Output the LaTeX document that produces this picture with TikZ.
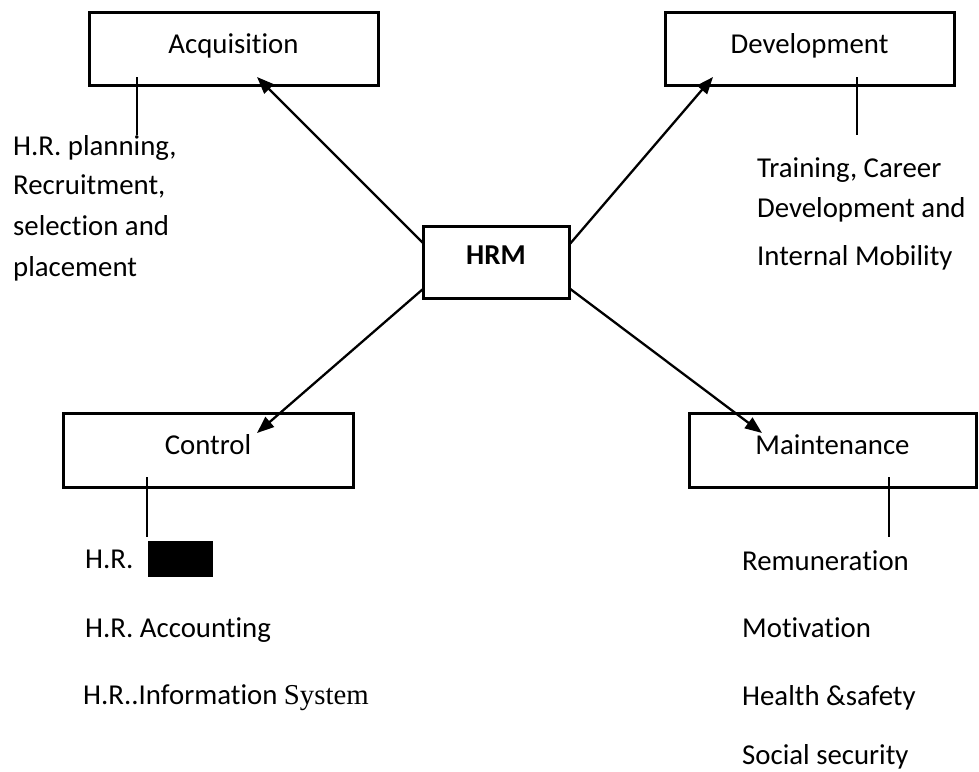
\documentclass[tikz,border=0pt]{standalone}
\usepackage{fontspec}
\setmainfont{Carlito}[Ligatures={NoCommon}]
\newfontfamily\tnr{Liberation Serif}
\usetikzlibrary{arrows.meta}
\begin{document}
\begin{tikzpicture}[x=1pt,y=-1pt,
  box/.style={draw,line width=3pt,minimum width=289pt,minimum height=73pt,inner sep=0pt,
    text height=18pt,text depth=9pt,font=\fontsize{28.8}{34}\selectfont},
  txt/.style={anchor=base west,inner sep=0pt,font=\fontsize{28.8}{34}\selectfont},
  arr/.style={line width=2.3pt,-{Triangle[length=17pt,width=13pt]}},
  tick/.style={line width=2.3pt}]
\useasboundingbox (0,0) rectangle (979,771);

% boxes
\node[box] (acq) at (233.5,48.5) {Acquisition};
\node[box] (dev) at (809.5,48.5) {Development};
\node[box,minimum width=290pt,minimum height=74pt] (ctl) at (208,450) {Control};
\node[box,minimum width=287pt,minimum height=74pt] (mnt) at (832.5,450) {Maintenance};
\node[box,minimum width=146pt,minimum height=72pt,text depth=14pt,
  font=\fontsize{28.8}{34}\selectfont\bfseries] (hrm) at (496,262) {HRM};

% arrow ends
\coordinate (hUL) at (423,243);
\coordinate (hUR) at (569,245);
\coordinate (hLL) at (423,289);
\coordinate (hLR) at (569,288);
\coordinate (tAcq) at (257,77);
\coordinate (tDev) at (713,77);
\coordinate (tCtl) at (257,433);
\coordinate (tMnt) at (762,433);

\draw[arr] (hUL) -- (tAcq);
\draw[arr] (hUR) -- (tDev);
\draw[arr] (hLL) -- (tCtl);
\draw[arr] (hLR) -- (tMnt);

% ticks
\coordinate (aT1) at (137,77);  \coordinate (aT2) at (137,135);
\coordinate (dT1) at (857,77);  \coordinate (dT2) at (857,135);
\coordinate (cT1) at (147,477); \coordinate (cT2) at (147,537);
\coordinate (mT1) at (889,477); \coordinate (mT2) at (889,537);
\draw[tick] (aT1) -- (aT2);
\draw[tick] (dT1) -- (dT2);
\draw[tick] (cT1) -- (cT2);
\draw[tick] (mT1) -- (mT2);

% acquisition texts
\node[txt] (a1) at (13,155) {H.R. planning,};
\node[txt] (a2) at (13,194) {Recruitment,};
\node[txt] (a3) at (13,235) {selection and};
\node[txt] (a4) at (13,276) {placement};

% development texts
\node[txt] (d1) at (757,177) {Training, Career};
\node[txt] (d2) at (757,217) {Development and};
\node[txt] (d3) at (757,265) {Internal Mobility};

% control texts
\node[txt] (c1) at (85,568) {H.R.};
\node[fill=black,minimum width=65pt,minimum height=36pt,inner sep=0pt] (blk) at (180.5,559) {};
\node[txt] (c2) at (85,637) {H.R. Accounting};
\node[txt] (c3) at (83,704) {H.R..Information {\tnr System}};

% maintenance texts
\node[txt] (m1) at (742,570) {Remuneration};
\node[txt] (m2) at (742,637) {Motivation};
\node[txt] (m3) at (742,705) {Health \&safety};
\node[txt] (m4) at (742,764) {Social security};
\end{tikzpicture}
\end{document}
